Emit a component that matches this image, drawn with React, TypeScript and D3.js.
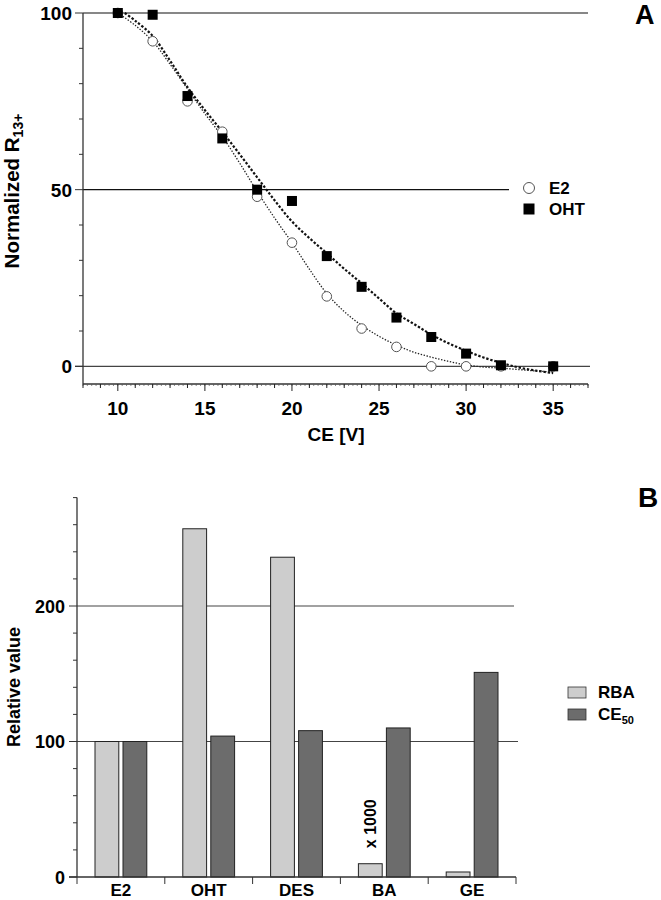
import React from "react";
import * as d3 from "d3";

// ---------- Panel A data ----------
const ceX = [10, 12, 14, 16, 18, 20, 22, 24, 26, 28, 30, 32, 35];
const e2Vals = [100, 92, 75, 66.4, 48, 35, 19.8, 10.7, 5.5, 0, 0, 0, 0];
const ohtVals = [100, 99.5, 76.5, 64.5, 50, 46.8, 31.2, 22.5, 13.8, 8.3, 3.6, 0.3, 0];

const e2FitX = [10, 11, 12, 13, 14, 15, 16, 17, 18, 19, 20, 21, 22, 23, 24, 25, 26, 27, 28, 29, 30, 31, 32, 33, 34, 35];
const e2FitY = [100, 96.5, 92, 85.5, 78.5, 71.5, 65, 57.5, 49.5, 42, 35, 27.5, 20.6, 15.5, 11.6, 8.5, 6, 4, 2.6, 1.4, 0.4, -0.2, -0.5, -0.9, -1.3, -1.6];
const ohtFitX = [10.4, 11, 12, 13, 14, 15, 16, 17, 18, 19, 20, 21, 22, 23, 24, 25, 26, 27, 28, 29, 30, 31, 32, 33, 34, 35];
const ohtFitY = [100, 97.8, 93.5, 86.5, 79, 72.5, 66.4, 60, 53.5, 47, 41, 36.3, 32, 27.6, 23.5, 19.2, 15, 12, 9, 6.5, 4.4, 2.5, 1, -0.3, -1.2, -1.9];

const xTicksA = [10, 15, 20, 25, 30, 35];
const yTicksA = [0, 50, 100];

// ---------- Panel B data ----------
const compounds = ["E2", "OHT", "DES", "BA", "GE"];
const rbaVals = [100, 257, 236, 9.8, 3.7];
const ce50Vals = [100, 104, 108, 110, 151];
const seriesB = ["RBA", "CE50"];
const yTicksB = [0, 100, 200];

const FONT = "'Liberation Sans', Arial, Helvetica, sans-serif";
const LIGHT = "#cdcdcd";
const DARK = "#6c6c6c";

export default function App() {
  // Panel A scales
  const xA = d3.scaleLinear().domain([8, 37]).range([83, 588]);
  const yA = d3.scaleLinear().domain([-5, 100]).range([384, 13]);
  const lineA = d3
    .line<[number, number]>()
    .x((d) => xA(d[0]))
    .y((d) => yA(d[1]))
    .curve(d3.curveCatmullRom.alpha(0.5));
  const e2Fit = e2FitX.map((x, i) => [x, e2FitY[i]] as [number, number]);
  const ohtFit = ohtFitX.map((x, i) => [x, ohtFitY[i]] as [number, number]);

  const minorXA = d3.range(8, 37.01, 1);
  const microXA = d3.range(8, 37.01, 0.25);
  const minorYA = d3.range(0, 100.01, 10);

  // Panel B scales
  const yB = d3.scaleLinear().domain([0, 280]).range([877, 497.6]);
  const xB = d3.scaleBand().domain(compounds).range([77, 516]);
  const bw = xB.bandwidth();
  const sub = d3.scaleBand().domain(seriesB).range([18, bw - 18]).paddingInner(0.15);
  const minorYB = d3.range(0, 280.01, 20);
  const catEdges = compounds.map((c) => xB(c) as number).concat([516]);

  return (
    <svg
      width={661}
      height={900}
      style={{ position: "absolute", left: 0, top: 0, background: "#fff" }}
      fontFamily={FONT}
      fontWeight="bold"
    >
      <rect x={0} y={0} width={661} height={900} fill="#fff" />
      {/* ================= Panel A ================= */}
      <g>
        {/* reference lines */}
        <line x1={xA(8)} x2={588} y1={yA(100)} y2={yA(100)} stroke="#111" strokeWidth={1.2} />
        <line x1={xA(8)} x2={509} y1={yA(50)} y2={yA(50)} stroke="#111" strokeWidth={1.2} />
        <line x1={75} x2={590} y1={yA(0)} y2={yA(0)} stroke="#444" strokeWidth={1.2} />
        {/* axes */}
        <line x1={83} x2={83} y1={yA(100)} y2={384} stroke="#333" strokeWidth={1.3} />
        <line x1={83} x2={588} y1={384} y2={384} stroke="#333" strokeWidth={1.3} />
        {minorYA.map((v) => (
          <line key={"ya" + v} x1={v % 50 === 0 ? 75 : 79} x2={83} y1={yA(v)} y2={yA(v)} stroke="#333" strokeWidth={1} />
        ))}
        {microXA.map((v) => (
          <line key={"mxa" + v} x1={xA(v)} x2={xA(v)} y1={384} y2={386} stroke="#555" strokeWidth={0.7} />
        ))}
        {minorXA.map((v) => (
          <line key={"xa" + v} x1={xA(v)} x2={xA(v)} y1={384} y2={v % 5 === 0 ? 391 : 388} stroke="#222" strokeWidth={1} />
        ))}
        {yTicksA.map((v) => (
          <text key={"yl" + v} x={72} y={yA(v) + 7} textAnchor="end" fontSize={19}>
            {v}
          </text>
        ))}
        {xTicksA.map((v) => (
          <text key={"xl" + v} x={xA(v)} y={415} textAnchor="middle" fontSize={19}>
            {v}
          </text>
        ))}
        <text x={336} y={441} textAnchor="middle" fontSize={19}>
          CE [V]
        </text>
        <text transform="translate(19,191) rotate(-90)" textAnchor="middle" fontSize={20.5}>
          Normalized R<tspan fontSize={14} dy={4}>13+</tspan>
        </text>
        <text x={635} y={24} fontSize={27}>
          A
        </text>

        {/* fit curves */}
        <path d={lineA(e2Fit) || ""} fill="none" stroke="#222" strokeWidth={1.3} strokeDasharray="1.4,1.6" />
        <path d={lineA(ohtFit) || ""} fill="none" stroke="#111" strokeWidth={2.2} strokeDasharray="2.4,1.8" />

        {/* points */}
        {ceX.map((x, i) => (
          <circle key={"e2" + x} cx={xA(x)} cy={yA(e2Vals[i])} r={4.8} fill="#fff" stroke="#555" strokeWidth={1} />
        ))}
        {ceX.map((x, i) => (
          <rect key={"oht" + x} x={xA(x) - 5} y={yA(ohtVals[i]) - 5} width={10} height={10} fill="#000" />
        ))}

        {/* legend */}
        <circle cx={529} cy={188} r={5.5} fill="#fff" stroke="#555" strokeWidth={1} />
        <text x={549} y={194} fontSize={17}>
          E2
        </text>
        <rect x={523.5} y={203.5} width={11} height={11} fill="#000" />
        <text x={549} y={215} fontSize={17}>
          OHT
        </text>
      </g>

      {/* ================= Panel B ================= */}
      <g>
        <line x1={77} x2={514} y1={yB(200)} y2={yB(200)} stroke="#444" strokeWidth={1.2} />
        <line x1={77} x2={518} y1={yB(100)} y2={yB(100)} stroke="#444" strokeWidth={1.2} />
        {/* bars */}
        {compounds.map((c, i) => {
          const x0 = xB(c) as number;
          return (
            <g key={"bar" + c}>
              <rect
                x={x0 + (sub("RBA") as number)}
                y={yB(rbaVals[i])}
                width={sub.bandwidth()}
                height={yB(0) - yB(rbaVals[i])}
                fill={LIGHT}
                stroke="#222"
                strokeWidth={1}
              />
              <rect
                x={x0 + (sub("CE50") as number)}
                y={yB(ce50Vals[i])}
                width={sub.bandwidth()}
                height={yB(0) - yB(ce50Vals[i])}
                fill={DARK}
                stroke="#222"
                strokeWidth={1}
              />
            </g>
          );
        })}
        {/* axes */}
        <line x1={77} x2={77} y1={yB(280)} y2={yB(0)} stroke="#333" strokeWidth={1.3} />
        <line x1={69} x2={516} y1={yB(0)} y2={yB(0)} stroke="#333" strokeWidth={1.3} />
        {minorYB.map((v) => (
          <line key={"yb" + v} x1={v % 100 === 0 ? 69 : 73} x2={77} y1={yB(v)} y2={yB(v)} stroke="#333" strokeWidth={1} />
        ))}
        {catEdges.map((x, i) => (
          <line key={"cb" + i} x1={x} x2={x} y1={yB(0)} y2={yB(0) + 7} stroke="#333" strokeWidth={1} />
        ))}
        {yTicksB.map((v) => (
          <text key={"ylb" + v} x={65} y={yB(v) + 6.5} textAnchor="end" fontSize={18}>
            {v}
          </text>
        ))}
        {compounds.map((c) => (
          <text key={"xlb" + c} x={(xB(c) as number) + bw / 2} y={896} textAnchor="middle" fontSize={17}>
            {c}
          </text>
        ))}
        <text transform="translate(20,687) rotate(-90)" textAnchor="middle" fontSize={18}>
          Relative value
        </text>
        <text
          transform={`translate(${(xB("BA") as number) + (sub("RBA") as number) + sub.bandwidth() / 2 + 6},${yB(rbaVals[3]) - 40}) rotate(-90)`}
          textAnchor="middle"
          fontSize={16}
        >
          x 1000
        </text>
        <text x={638} y={507} fontSize={28}>
          B
        </text>
        {/* legend */}
        <rect x={568} y={687} width={18} height={11} fill={LIGHT} stroke="#333" strokeWidth={0.8} />
        <text x={598} y={698} fontSize={17}>
          RBA
        </text>
        <rect x={568} y={709} width={18} height={11} fill={DARK} stroke="#333" strokeWidth={0.8} />
        <text x={598} y={720} fontSize={17}>
          CE<tspan fontSize={11} dy={4}>50</tspan>
        </text>
      </g>
    </svg>
  );
}
